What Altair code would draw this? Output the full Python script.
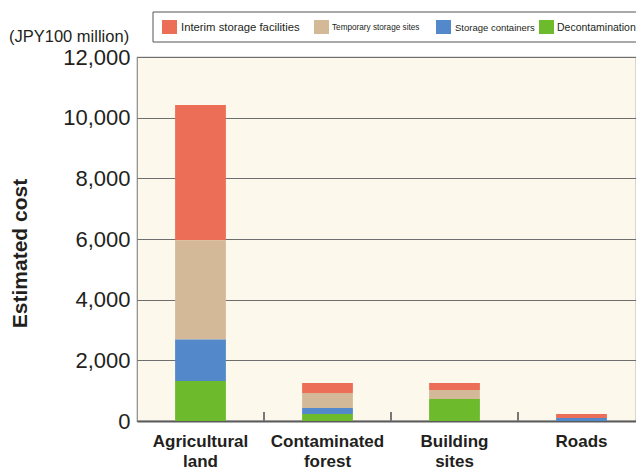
import altair as alt
import pandas as pd

categories = ["Agricultural land", "Contaminated forest", "Building sites", "Roads"]
series = ["Interim storage facilities", "Temporary storage sites", "Storage containers", "Decontamination"]
colors = ["#EC6E57", "#D4B999", "#5389CA", "#6DBA2D"]

interim = [4460, 330, 235, 130]
temporary = [3270, 495, 295, 0]
containers = [1370, 200, 0, 100]
decon = [1320, 230, 725, 0]

y_ticks = [0, 2000, 4000, 6000, 8000, 10000, 12000]

rows = []
for i, c in enumerate(categories):
    for j, (s, vals) in enumerate(zip(series, [interim, temporary, containers, decon])):
        rows.append({"Category": c, "Series": s, "Cost": vals[i], "order": 3 - j})
df = pd.DataFrame(rows)

W, H = 499, 364
TXT = "#231F20"
BASE = "Liberation Sans"

xscale = alt.Scale(domain=categories, paddingInner=0, paddingOuter=0, range=[0, 508])

bars = alt.Chart(df).mark_bar(width=alt.RelativeBandSize(0.4)).encode(
    x=alt.X("Category:N", scale=xscale, sort=categories,
            axis=alt.Axis(title=None, labelExpr="split(datum.label, ' ')", labelAngle=0,
                          labelFont=BASE, labelFontSize=17, labelFontWeight="bold",
                          labelColor=TXT, labelLineHeight=20, labelPadding=12,
                          ticks=False, domainColor="#5a5a5a", domainWidth=2)),
    y=alt.Y("Cost:Q", stack="zero", scale=alt.Scale(domain=[0, 12000], nice=False),
            axis=alt.Axis(title="Estimated cost", values=y_ticks, format=",d",
                          labelFont=BASE, labelFontSize=22, labelColor=TXT, labelPadding=7,
                          ticks=False, domain=False, grid=True, gridColor="#6e6e6e",
                          gridWidth=1.2, titleFont=BASE, titleFontSize=21,
                          titleFontWeight="bold", titleColor=TXT, titleAngle=-90,
                          titleX=-117, titleY=196, titleAlign="center",
                          titleBaseline="middle")),
    color=alt.Color("Series:N", scale=alt.Scale(domain=series, range=colors), legend=None),
    order=alt.Order("order:Q"),
)

tick_df = pd.DataFrame({"Category": categories[1:]})
ticks = alt.Chart(tick_df).mark_rule(color="#777777", strokeWidth=2).encode(
    x=alt.X("Category:N", scale=xscale, sort=categories, bandPosition=0),
    y=alt.value(H - 9),
    y2=alt.value(H),
)

unit = alt.Chart(pd.DataFrame({"t": ["(JPY100 million)"]})).mark_text(
    align="left", baseline="middle", font=BASE, fontSize=16.5, color=TXT
).encode(x=alt.value(-128), y=alt.value(-20), text="t:N")

legend_box = alt.Chart(pd.DataFrame({"a": [1]})).mark_rect(
    fill="white", stroke="#555555", strokeWidth=1
).encode(x=alt.value(16), x2=alt.value(530), y=alt.value(-45), y2=alt.value(-15))

sw_x = [25, 177, 299, 402]
tx_x = [44, 195, 318, 420]
fsz = [11.3, 8.2, 9.5, 10.5]
layers = [legend_box]
for i, s in enumerate(series):
    layers.append(
        alt.Chart(pd.DataFrame({"s": [s]})).mark_rect(color=colors[i]).encode(
            x=alt.value(sw_x[i]), x2=alt.value(sw_x[i] + 15),
            y=alt.value(-37), y2=alt.value(-23))
    )
    layers.append(
        alt.Chart(pd.DataFrame({"s": [s]})).mark_text(
            align="left", baseline="middle", font=BASE, fontSize=fsz[i], color=TXT
        ).encode(x=alt.value(tx_x[i]), y=alt.value(-29.5), text="s:N")
    )

chart = alt.layer(bars, ticks, unit, *layers).properties(
    width=W, height=H, autosize="none",
    padding={"left": 129, "top": 49, "right": 0, "bottom": 48},
    background="white",
).configure_view(fill="#FDF8EC", stroke="#8a8a8a", strokeWidth=1.2)

chart.save("out.html", embed_options={"renderer": "svg", "actions": False})
